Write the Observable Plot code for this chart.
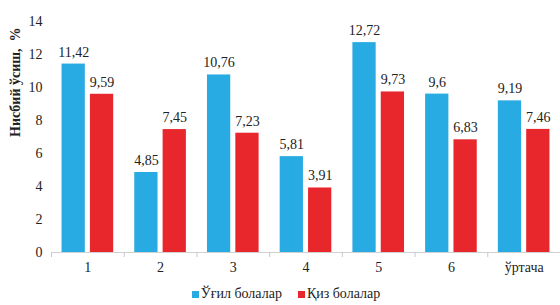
<!DOCTYPE html>
<html><head><meta charset="utf-8">
<script src="https://cdn.jsdelivr.net/npm/d3@7"></script>
<script src="https://cdn.jsdelivr.net/npm/@observablehq/plot@0.6"></script>
<style>
body{margin:0;background:#fff;font-family:'Liberation Serif',serif;}
#legend{display:flex;justify-content:center;align-items:center;gap:16px;font-size:14px;color:#222;padding-left:12px;height:24px;margin-top:2px;font-family:'Liberation Serif',serif}
#legend span.sw{display:inline-block;width:7px;height:7px;margin-right:2px;vertical-align:middle}
</style></head><body><div id="chart"></div><div id="legend"></div>
<script>
const categories = ["1","2","3","4","5","6","ўртача"];
const boys = [11.42, 4.85, 10.76, 5.81, 12.72, 9.6, 9.19];
const girls = [9.59, 7.45, 7.23, 3.91, 9.73, 6.83, 7.46];
const seriesNames = ["Ўғил болалар", "Қиз болалар"];
const colors = ["#27abe2", "#e8272c"];
const yTicks = [0, 2, 4, 6, 8, 10, 12, 14];
const yLabel = "Нисбий ўсиш,  %";

const rows = [];
categories.forEach((c, i) => {
  rows.push({i, cat: c, s: 0, series: seriesNames[0], value: boys[i]});
  rows.push({i, cat: c, s: 1, series: seriesNames[1], value: girls[i]});
});
const fmt = v => String(v).replace(".", ",");
const x1 = d => d.i + (d.s === 0 ? -0.355 : 0.035);
const x2 = d => d.i + (d.s === 0 ? -0.035 : 0.355);
const xc = d => d.i + (d.s === 0 ? -0.195 : 0.195);

const chart = Plot.plot({
  width: 560, height: 280,
  marginLeft: 51, marginRight: 0, marginTop: 21, marginBottom: 28,
  style: {fontFamily: "'Liberation Serif', serif", fontSize: "14px", color: "#222", background: "#fff"},
  x: {type: "linear", domain: [-0.5, 6.5]},
  y: {domain: [0, 14]},
  color: {domain: seriesNames, range: colors},
  marks: [
    Plot.rectY(rows, {x1, x2, y: "value", fill: "series", stroke: "series", strokeOpacity: 0.0}),
    Plot.ruleY([0], {stroke: "#d0d0d0"}),
    Plot.axisX({ticks: d3.range(-0.5, 7, 1), tickFormat: () => "", tickSize: 5, stroke: "#c8c8c8", label: null}),
    Plot.axisX({ticks: d3.range(0, 7), tickSize: 0, tickPadding: 10, tickFormat: i => categories[i], label: null, fontSize: 14, fontFamily: "Liberation Serif"}),
    Plot.axisY({ticks: yTicks, tickSize: 0, tickPadding: 9, label: null, fontSize: 14, fontFamily: "Liberation Serif"}),
    Plot.text([yLabel], {frameAnchor: "left", text: d => d, rotate: -90, dx: -36, fontWeight: "bold", fontSize: 14, fontFamily: "Liberation Serif"}),
    Plot.text(rows, {x: xc, y: "value", text: d => fmt(d.value), dy: -12, fontSize: 14, fill: "#222", fontFamily: "Liberation Serif"})
  ]
});
document.getElementById("chart").appendChild(chart);

const lg = document.getElementById("legend");
seriesNames.forEach((n, k) => {
  const el = document.createElement("div");
  el.innerHTML = `<span class="sw" style="background:${colors[k]}"></span>${n}`;
  lg.appendChild(el);
});
</script></body></html>
